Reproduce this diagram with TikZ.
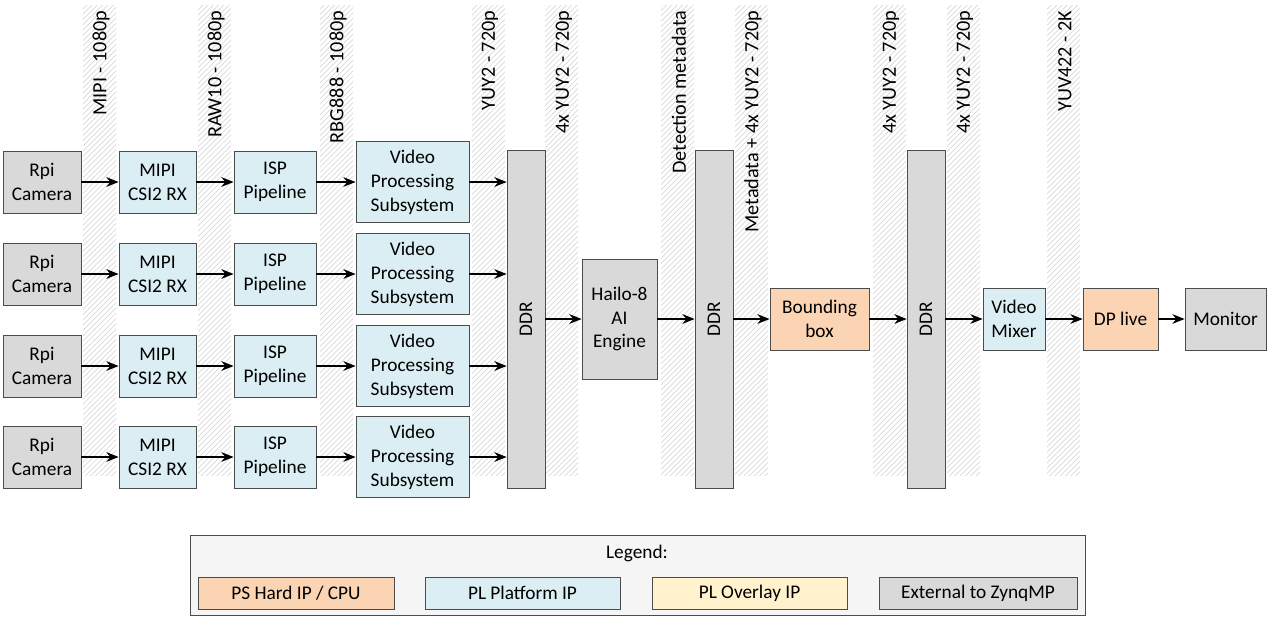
\documentclass[tikz,border=0pt]{standalone}
\usepackage{fontspec}
\setmainfont{Carlito}
\usetikzlibrary{positioning,calc,arrows.meta,patterns}
\definecolor{psorange}{HTML}{FBD4B4}
\definecolor{plblue}{HTML}{DBEEF4}
\definecolor{plyellow}{HTML}{FFF2CC}
\definecolor{extgrey}{HTML}{D9D9D9}
\begin{document}
\begin{tikzpicture}[x=0.02cm,y=-0.02cm,->,>={Stealth[length=7pt,width=5.5pt]},thick,
        font=\fontsize{11}{13.6}\selectfont,
        main node/.style={draw=black!70, thin, rectangle, align=center, inner sep=0pt},
        ext node/.style={main node, fill=extgrey},
        pl node/.style={main node, fill=plblue},
        ps node/.style={main node, fill=psorange},
        strip/.style={draw=none, pattern=north east lines, pattern color=black!15},
        bus label/.style={rotate=90, anchor=east, inner sep=0pt, font=\fontsize{11.5}{13}\selectfont}]
\useasboundingbox (0,0) rectangle (1271,619);

% hatched strips
\foreach \x in {83,198,320,472,545,661,735,873,947,1047}
  \fill[strip] (\x,5) rectangle ++(33,470);

% labels
\node[bus label] (l1) at (101,10) {MIPI - 1080p};
\node[bus label] (l2) at (216,10) {RAW10 - 1080p};
\node[bus label] (l3) at (338,10) {RBG888 - 1080p};
\node[bus label] (l4) at (490,10) {YUY2 - 720p};
\node[bus label] (l5) at (564,10) {4x YUY2 - 720p};
\node[bus label] (l6) at (679,10) {Detection metadata};
\node[bus label] (l7) at (753,10) {Metadata + 4x YUY2 - 720p};
\node[bus label] (l8) at (891,10) {4x YUY2 - 720p};
\node[bus label] (l9) at (965,10) {4x YUY2 - 720p};
\node[bus label] (l10) at (1065,10) {YUV422 - 2K};

% DDR columns
\node[ext node, minimum width=38*0.02cm, minimum height=338*0.02cm] (ddr1) at (526,319) {\rotatebox{90}{DDR}};
\node[ext node, minimum width=38*0.02cm, minimum height=338*0.02cm] (ddr2) at (714,319) {\rotatebox{90}{DDR}};
\node[ext node, minimum width=38*0.02cm, minimum height=338*0.02cm] (ddr3) at (926,319) {\rotatebox{90}{DDR}};

% camera rows
\foreach \r/\y in {1/182,2/274,3/366,4/457}{
  \node[ext node, minimum width=78*0.02cm, minimum height=62*0.02cm] (cam\r) at (42,\y) {Rpi\\Camera};
  \node[pl node, minimum width=77*0.02cm, minimum height=62*0.02cm] (mipi\r) at (157.5,\y) {MIPI\\CSI2 RX};
  \node[pl node, minimum width=82*0.02cm, minimum height=62*0.02cm] (isp\r) at (275,\y) {ISP\\Pipeline};
  \node[pl node, minimum width=113*0.02cm, minimum height=81*0.02cm] (vps\r) at (412.5,\y) {Video\\Processing\\Subsystem};
  \draw (cam\r) -- (mipi\r);
  \draw (mipi\r) -- (isp\r);
  \draw (isp\r) -- (vps\r);
  \draw (vps\r.east) -- (vps\r.east -| ddr1.west);
}

% processing chain
\node[ext node, minimum width=75*0.02cm, minimum height=120*0.02cm] (hailo) at (619.5,319) {Hailo-8\\AI\\Engine};
\node[ps node, minimum width=99*0.02cm, minimum height=62*0.02cm] (bbox) at (819.5,319) {Bounding\\box};
\node[pl node, minimum width=62*0.02cm, minimum height=62*0.02cm] (mixer) at (1014,319) {Video\\Mixer};
\node[ps node, minimum width=75*0.02cm, minimum height=62*0.02cm] (dp) at (1120.5,319) {DP live};
\node[ext node, minimum width=81*0.02cm, minimum height=62*0.02cm] (mon) at (1225.5,319) {Monitor};

\draw (ddr1) -- (hailo);
\draw (hailo) -- (ddr2);
\draw (ddr2) -- (bbox);
\draw (bbox) -- (ddr3);
\draw (ddr3) -- (mixer);
\draw (mixer) -- (dp);
\draw (dp) -- (mon);

% legend
\node[main node, fill=black!4, minimum width=895*0.02cm, minimum height=80*0.02cm] (legend) at (637.5,575) {};
\node (legtitle) at (637,553) {Legend:};
\node[ps node, minimum width=196*0.02cm, minimum height=32*0.02cm] (leg1) at (296,593) {PS Hard IP / CPU};
\node[pl node, minimum width=195*0.02cm, minimum height=32*0.02cm] (leg2) at (522.5,593) {PL Platform IP};
\node[main node, fill=plyellow, minimum width=195*0.02cm, minimum height=32*0.02cm] (leg3) at (749.5,593) {PL Overlay IP};
\node[ext node, minimum width=198*0.02cm, minimum height=32*0.02cm] (leg4) at (978,593) {External to ZynqMP};
\end{tikzpicture}
\end{document}
